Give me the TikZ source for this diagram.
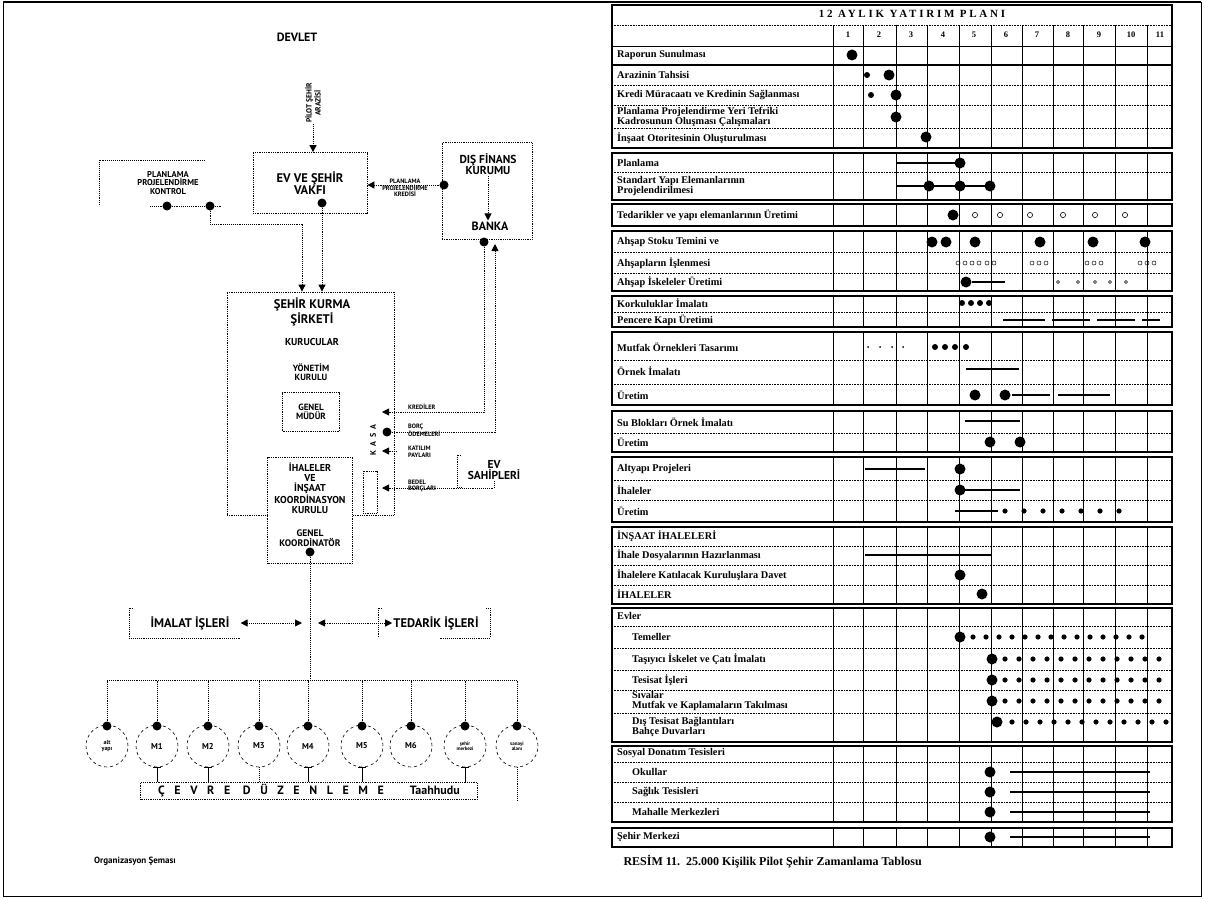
\documentclass[tikz,border=0pt]{standalone}
\usepackage{fontspec}
\setmainfont{Liberation Serif}
\newfontfamily\orgfont{PT Sans}
\usetikzlibrary{arrows.meta, positioning}

\begin{document}
\begin{tikzpicture}[x=1pt, y=-1pt,
    org/.style={font=\orgfont\bfseries\fontsize{#1}{#1}\selectfont, align=center, inner sep=1pt},
    org/.default=10,
    note/.style={font=\orgfont\bfseries\fontsize{6.3}{6.5}\selectfont, align=left, inner sep=0pt},
    dbox/.style={draw, densely dotted, line width=0.8pt},
    con/.style={densely dotted, line width=0.9pt},
    ar/.style={con, -{Triangle[length=7pt, width=7pt]}},
    dar/.style={con, {Triangle[length=7pt, width=7pt]}-{Triangle[length=7pt, width=7pt]}},
    jdot/.style={circle, fill, inner sep=0pt, minimum size=9pt},
    circ/.style={circle, draw, dashed, line width=0.6pt, minimum size=42pt, inner sep=0pt, align=center},
    grp/.style={line width=1.5pt},
    coll/.style={line width=0.8pt},
    rowl/.style={densely dotted, line width=0.6pt},
    lbl/.style={font=\bfseries\fontsize{10.3}{9.8}\selectfont, anchor=west, inner sep=0pt, align=left},
    mon/.style={font=\bfseries\fontsize{8.5}{8.5}\selectfont, inner sep=0pt},
    bar/.style={line width=1.9pt}
  ]
\useasboundingbox (0,0) rectangle (1205,899);
\draw[line width=0.8pt] (3,2) rectangle (1201,896);
\draw[line width=2.5pt] (3,2) -- (1201,2);

% organizasyon semasi
\node[org=12] (devlet) at (297,37) {DEVLET};
\node[org=7.5, rotate=90] (arazi) at (313,103) {PİLOT ŞEHİR\\ARAZİSİ};
\node[dbox, org=12.5, minimum width=114, minimum height=61] (vakif) at (310,183) {EV VE ŞEHİR\\VAKFI};
\node[jdot] (vdot) at (322,203) {};
\draw[ar] (arazi) -- (arazi |- vakif.north);

\node[org=8.5] (plan) at (168,183) {PLANLAMA\\PROJELENDİRME\\KONTROL};
\draw[con] (205,160) -- (99,160) -- (99,206);
\node[jdot] (pdot1) at (167,206) {};
\node[jdot] (pdot2) at (210,206) {};
\draw[con] (150,206) -- (pdot1) -- (pdot2) -- (222,206);

\node[dbox, minimum width=90, minimum height=97] (finbox) at (487,191) {};
\node[org=11.5] (finans) at (488,164) {DIŞ FİNANS\\KURUMU};
\node[org=12] (banka) at (490,226) {BANKA};
\draw[ar] (finans) -- (finans |- banka.north);
\node[jdot] (fdot) at (444,185) {};
\draw[ar] (fdot) -- (vakif.east |- fdot);
\node[note, align=center] (pkredi) at (405,188) {PLANLAMA\\PROJELENDİRME\\KREDİSİ};
\node[jdot] (bdot) at (484,242) {};
\coordinate (bup) at (495,244);

\node[dbox, minimum width=167, minimum height=223] (sirket) at (310.5,403.5) {};
\node[org=12.5] (sirkettxt) at (312,312) {ŞEHİR KURMA\\ŞİRKETİ};
\node[org=10] (kurucular) at (312,342) {KURUCULAR};
\node[org=9] (yonetim) at (311,372) {YÖNETİM\\KURULU};
\node[dbox, org=9, minimum width=57, minimum height=39] (mudur) at (311,412) {GENEL\\MÜDÜR};
\node[org=8, rotate=90] (kasa) at (373,440) {K\ \ A\ \ S\ \ A};
\node[dbox, minimum width=14, minimum height=42] (kbox) at (370,492) {};
\draw[ar] (pdot2) -- ++(0,18) -| ([xshift=-8.5]sirket.north);
\draw[ar] (vdot) -- (vdot |- sirket.north);

\coordinate (k1) at (382,412);
\coordinate (k3) at (382,451);
\coordinate (k3s) at (397,451);
\coordinate (k4) at (382,488);
\node[jdot] (kdot) at (387,432) {};
\draw[ar] (bdot) |- (k1);
\draw[ar] (kdot) -| (bup);
\draw[ar] (k3s) -- (k3);

\node[org=11.5] (evsahip) at (494,470) {EV\\SAHİPLERİ};
\draw[con] (461,455) -- (457,455) -- (457,487) -- (461,487);
\draw[ar] (evsahip.south) |- (k4);

\node[note, anchor=west] (lkredi) at (408,407) {KREDİLER};
\node[note, anchor=west] (lborc) at (408,430) {BORÇ\\ÖDEMELERİ};
\node[note, anchor=west] (lkatilim) at (408,452) {KATILIM\\PAYLARI};
\node[note, anchor=west] (lbedel) at (408,486) {BEDEL\\BORÇLARI};

\node[dbox, fill=white, minimum width=85, minimum height=106] (ihale) at (310,510) {};
\node[org=10] (ihaletxt) at (310,488) {İHALELER\\VE\\İNŞAAT\\KOORDİNASYON\\KURULU};
\node[org=9.5] (koord) at (310,538) {GENEL\\KOORDİNATÖR};
\node[jdot] (kdot2) at (310,552) {};

\coordinate (bus) at (310,680);
\draw[con] (kdot2) -- (bus);
\node[org=12.5] (imalat) at (190,623) {İMALAT İŞLERİ};
\draw[con] (133,608) -- (129,608) -- (129,638) -- (240,638);
\node[org=12.5] (tedarik) at (436,623) {TEDARİK İŞLERİ};
\draw[con] (382,608) -- (378,608) -- (378,638);
\draw[con] (486,608) -- (490,608) -- (490,638) -- (440,638);
\coordinate (cl) at (302,623);
\coordinate (cr) at (318,623);
\draw[dar] ([xshift=10]imalat.east) -- (cl);
\draw[dar] (cr) -- (tedarik.west);
\draw[con] (107,680) -- (517,680);

\foreach \x/\lab/\fs [count=\i] in {107/{alt\\yapı}/6, 157/M1/8.5, 208/M2/8.5, 259/M3/8.5, 308/M4/8.5, 362/M5/8.5, 411/M6/8.5, 465/{şehir\\merkezi}/5, 517/{sanayi\\alanı}/5} {
  \node[circ, font=\orgfont\bfseries\fontsize{\fs}{\fs}\selectfont] (c\i) at (\x,746) {\lab};
  \node[jdot] (d\i) at (\x,726) {};
  \draw[con] (d\i) -- (\x,680);
}
\node[dbox, org=12, minimum width=337, minimum height=17, inner sep=0pt] (cevre) at (309,791)
  {{\addfontfeature{LetterSpace=80}ÇEVRE DÜZENLEME}\hspace{26pt}Taahhudu};
\foreach \i in {2,3,5,6,8} {
  \draw ([xshift=-4]c\i.south) -- ([xshift=4]c\i.south);
  \draw (c\i.south) -- (c\i.south |- cevre.north);
}
\draw[con] (c4.south) -- (c4.south |- cevre.north);
\draw[con] (c9.south) -- (c9.south |- cevre.south);
\node[org=9, anchor=west] (orgsema) at (93,861) {Organizasyon Şeması};

% yatirim plani
\node[font=\bfseries\fontsize{11}{11}\selectfont\addfontfeature{LetterSpace=25}] (baslik) at (912,14) {12 AYLIK YATIRIM PLANI};
\draw[grp] (612,5) rectangle (1172,65);
\draw[rowl] (612,25) -- (1172,25);
\draw[coll] (612,46) -- (1172,46);
\foreach \c in {833,863,896,927,959,991,1022,1053,1083,1115,1147}
  \draw[coll] (\c,25) -- (\c,65);
\foreach \m [count=\i] in {848,879,911,943,974,1006,1037,1068,1099,1131,1160}
  \node[mon] (m\i) at (\m,35) {\i};
\foreach \t/\b in {65/148,153/200,204/226,231/291,296/327,332/405,411/452,457/522,527/604,608/742,746/822,828/847} {
  \draw[grp] (612,\t) rectangle (1172,\b);
  \foreach \c in {833,863,896,927,959,991,1022,1053,1083,1115,1147}
    \draw[coll] (\c,\t) -- (\c,\b);
}
\foreach \y in {85,105,128,172,252,273,312,360,384,433,480,500,546,565,585,626,648,670,690,713,762,782,802}
  \draw[rowl] (612,\y) -- (1172,\y);

\foreach \x/\y/\t [count=\i] in {617/55/Raporun Sunulması, 617/75/Arazinin Tahsisi,
    617/95/Kredi Müracaatı ve Kredinin Sağlanması,
    617/117/{Planlama Projelendirme Yeri Tefriki\\Kadrosunun Oluşması Çalışmaları},
    617/138/İnşaat Otoritesinin Oluşturulması, 617/163/Planlama,
    617/186/{Standart Yapı Elemanlarının\\Projelendirilmesi},
    617/215/Tedarikler ve yapı elemanlarının Üretimi,
    617/242/Ahşap Stoku Temini ve, 617/263/Ahşapların İşlenmesi, 617/282/Ahşap İskeleler Üretimi,
    617/303/Korkuluklar İmalatı, 617/320/Pencere Kapı Üretimi,
    617/347/Mutfak Örnekleri Tasarımı, 617/371/Örnek İmalatı, 617/395/Üretim,
    617/422/Su Blokları Örnek İmalatı, 617/442/Üretim,
    617/469/Altyapı Projeleri, 617/490/İhaleler, 617/511/Üretim,
    617/536/İNŞAAT İHALELERİ, 617/555/İhale Dosyalarının Hazırlanması,
    617/575/İhalelere Katılacak Kuruluşlara Davet, 617/594/İHALELER,
    617/616/Evler, 632/637/Temeller, 632/659/Taşıyıcı İskelet ve Çatı İmalatı,
    632/680/Tesisat İşleri, 632/701/{Sıvalar\\Mutfak ve Kaplamaların Takılması},
    632/727/{Dış Tesisat Bağlantıları\\Bahçe Duvarları},
    617/753/Sosyal Donatım Tesisleri, 632/772/Okullar, 632/792/Sağlık Tesisleri,
    632/812/Mahalle Merkezleri, 617/837/Şehir Merkezi}
  \node[lbl] (row\i) at (\x,\y) {\t};

\foreach \x/\y in {852/55, 889/75, 896/95, 896/117, 926/137, 960/163, 929/186, 960/186, 990/186,
    953/215, 932/242, 946/242, 975/242, 1040/242, 1093/242, 1145/242, 966/282,
    975/395, 1005/395, 990/442, 1020/442, 960/469, 960/490, 960/575, 982/594,
    960/637, 992/659, 992/680, 992/701, 997/722, 990/772, 990/792, 990/812, 990/837}
  \fill (\x,\y) circle (5.5pt);
\foreach \a/\b/\y in {897/960/163, 897/990/186, 972/1005/282, 1003/1045/320, 1052/1090/320,
    1097/1135/320, 1142/1160/320, 966/1019/369, 1012/1050/395, 1058/1110/395, 965/1020/421,
    865/925/469, 960/1020/490, 955/998/511, 865/992/555, 1010/1150/772, 1010/1150/792,
    1010/1150/812, 1010/1150/837}
  \draw[bar] (\a,\y) -- (\b,\y);
\foreach \x/\y in {867/75, 871/95, 962/303, 971/303, 980/303, 989/303, 935/347, 945/347, 955/347, 966/347}
  \fill (\x,\y) circle (3pt);
\foreach \y/\s/\n/\d in {511/1005/6/19, 637/973/13/13, 659/1005/11/14, 680/1005/11/14, 701/1005/11/14, 722/1012/11/14}
  \foreach \k in {0,...,\n}
    \fill ({\s+\k*\d},\y) circle (2.6pt);
\foreach \x in {975,1000,1030,1063,1095,1125}
  \draw[line width=0.6pt] (\x,215) circle (2.6pt);
\foreach \x in {958,965,972,979,987,994,1032,1039,1046,1087,1094,1101,1140,1147,1154}
  \draw[line width=0.5pt] (\x,263) circle (2pt);
\foreach \x in {1058,1078,1095,1110,1126}
  \draw[line width=0.5pt] (\x,282) circle (1.5pt);
\foreach \x in {868,880,892,903}
  \fill (\x,347) circle (1pt);

\node[font=\bfseries\fontsize{12}{12}\selectfont, anchor=west] (resim) at (620,862) {RESİM 11.\ \ 25.000 Kişilik Pilot Şehir Zamanlama Tablosu};
\end{tikzpicture}
\end{document}
